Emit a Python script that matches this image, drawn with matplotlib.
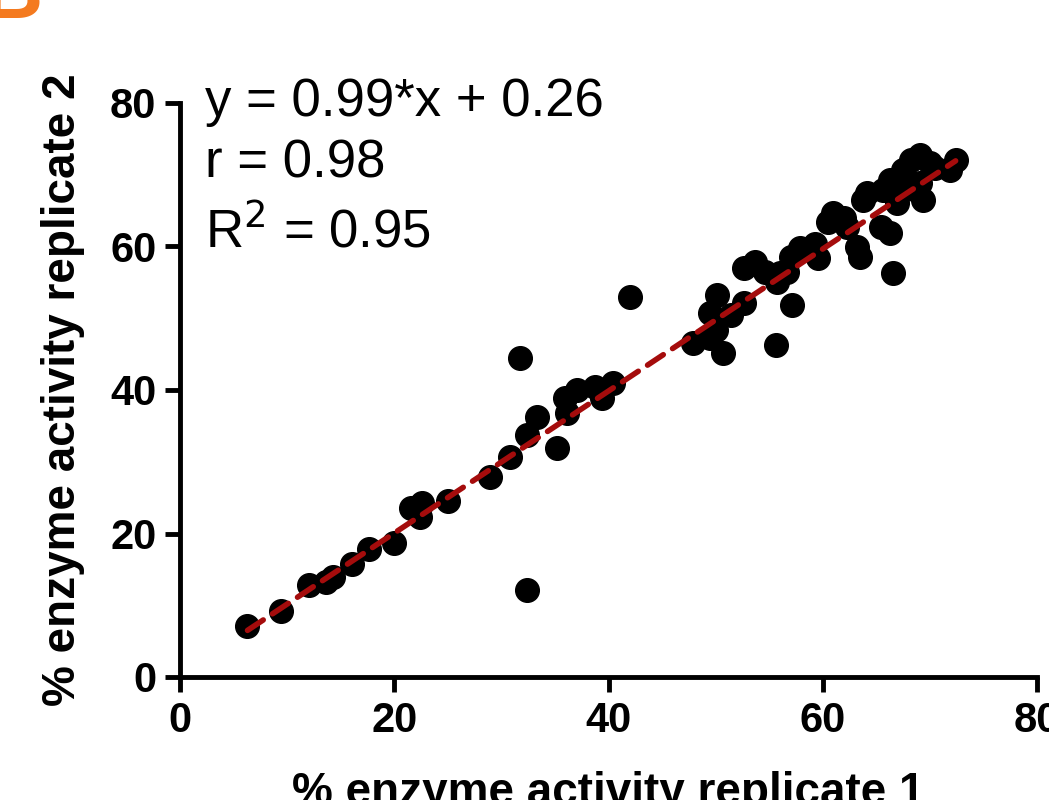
import matplotlib
matplotlib.use("Agg")
import matplotlib.pyplot as plt

plt.rcParams['font.family'] = ['Liberation Sans', 'DejaVu Sans']

# % enzyme activity, replicate 1 vs replicate 2
rep1 = [6.3, 9.4, 12.0, 13.6, 14.3, 16.1, 17.6, 20.0, 21.6, 22.6, 22.4, 25.0,
        28.9, 30.8, 32.4, 33.3, 35.2, 36.1, 35.9, 37.1, 38.7, 39.4, 40.4, 31.7,
        32.4, 42.0, 47.9, 49.5, 50.7, 50.0, 49.5, 50.1, 51.4, 52.6, 52.6, 53.7,
        54.6, 55.7, 56.7, 57.1, 55.6, 56.0, 57.0, 57.9, 59.3, 59.6, 61.0, 60.5,
        62.3, 63.2, 63.5, 64.1, 63.8, 65.6, 66.3, 67.5, 68.2, 69.1, 70.0, 71.9,
        72.4, 66.9, 69.4, 69.1, 66.3, 65.4, 66.6, 67.8, 70.5, 62.0]
rep2 = [7.1, 9.2, 12.8, 13.2, 13.9, 15.7, 17.8, 18.7, 23.6, 24.3, 22.3, 24.5,
        27.9, 30.6, 33.7, 36.2, 31.9, 36.8, 38.9, 40.0, 40.4, 38.9, 41.0, 44.5,
        12.1, 53.0, 46.5, 47.2, 45.2, 48.4, 50.7, 53.2, 50.5, 52.1, 57.0, 57.8,
        56.4, 55.0, 56.4, 51.8, 46.3, 56.3, 58.5, 59.8, 60.3, 58.4, 64.7, 63.4,
        62.7, 59.9, 58.5, 67.5, 66.5, 67.9, 69.3, 70.7, 72.0, 72.7, 71.6, 70.7,
        72.0, 66.1, 66.5, 68.9, 61.9, 62.7, 56.3, 68.0, 71.0, 64.0]

slope = 0.99
intercept = 0.26
fit_text = ["y = 0.99*x + 0.26", "r = 0.98", "R$^2$ = 0.95"]

fig = plt.figure(figsize=(10.49, 8), dpi=100)
ax = fig.add_axes([0.1716, 0.15375, 0.817, 0.7175])

ax.scatter(rep1, rep2, s=290, color='black', zorder=3, clip_on=False)
x_fit = [min(rep1), max(rep1)]
y_fit = [slope * v + intercept for v in x_fit]
ax.plot(x_fit, y_fit, color='#a50c0c', lw=4, ls=(0, (3.4, 2.0)),
        dash_capstyle='round', zorder=4)

ax.set_xlim(0, 80)
ax.set_ylim(0, 80)
ax.set_xticks([0, 20, 40, 60, 80])
ax.set_yticks([0, 20, 40, 60, 80])
for side in ['top', 'right']:
    ax.spines[side].set_visible(False)
for side in ['left', 'bottom']:
    ax.spines[side].set_linewidth(3.5)
ax.tick_params(width=3.5, length=11, labelsize=30, pad=6)
for lab in ax.get_xticklabels() + ax.get_yticklabels():
    lab.set_fontweight('bold')

ax.set_xlabel('% enzyme activity replicate 1', fontsize=33, fontweight='bold', labelpad=22)
ax.set_ylabel('% enzyme activity replicate 2', fontsize=33, fontweight='bold', labelpad=18)

ys = [0.855, 0.778, 0.69]
for t, yy in zip(fit_text, ys):
    fig.text(0.195, yy, t, fontsize=38, va='baseline', ha='left')

fig.text(-0.017, 0.9775, 'B', fontsize=60, fontweight='bold', color='#f47a1f',
         va='baseline', ha='left')

fig.savefig('out.png', dpi=100)
